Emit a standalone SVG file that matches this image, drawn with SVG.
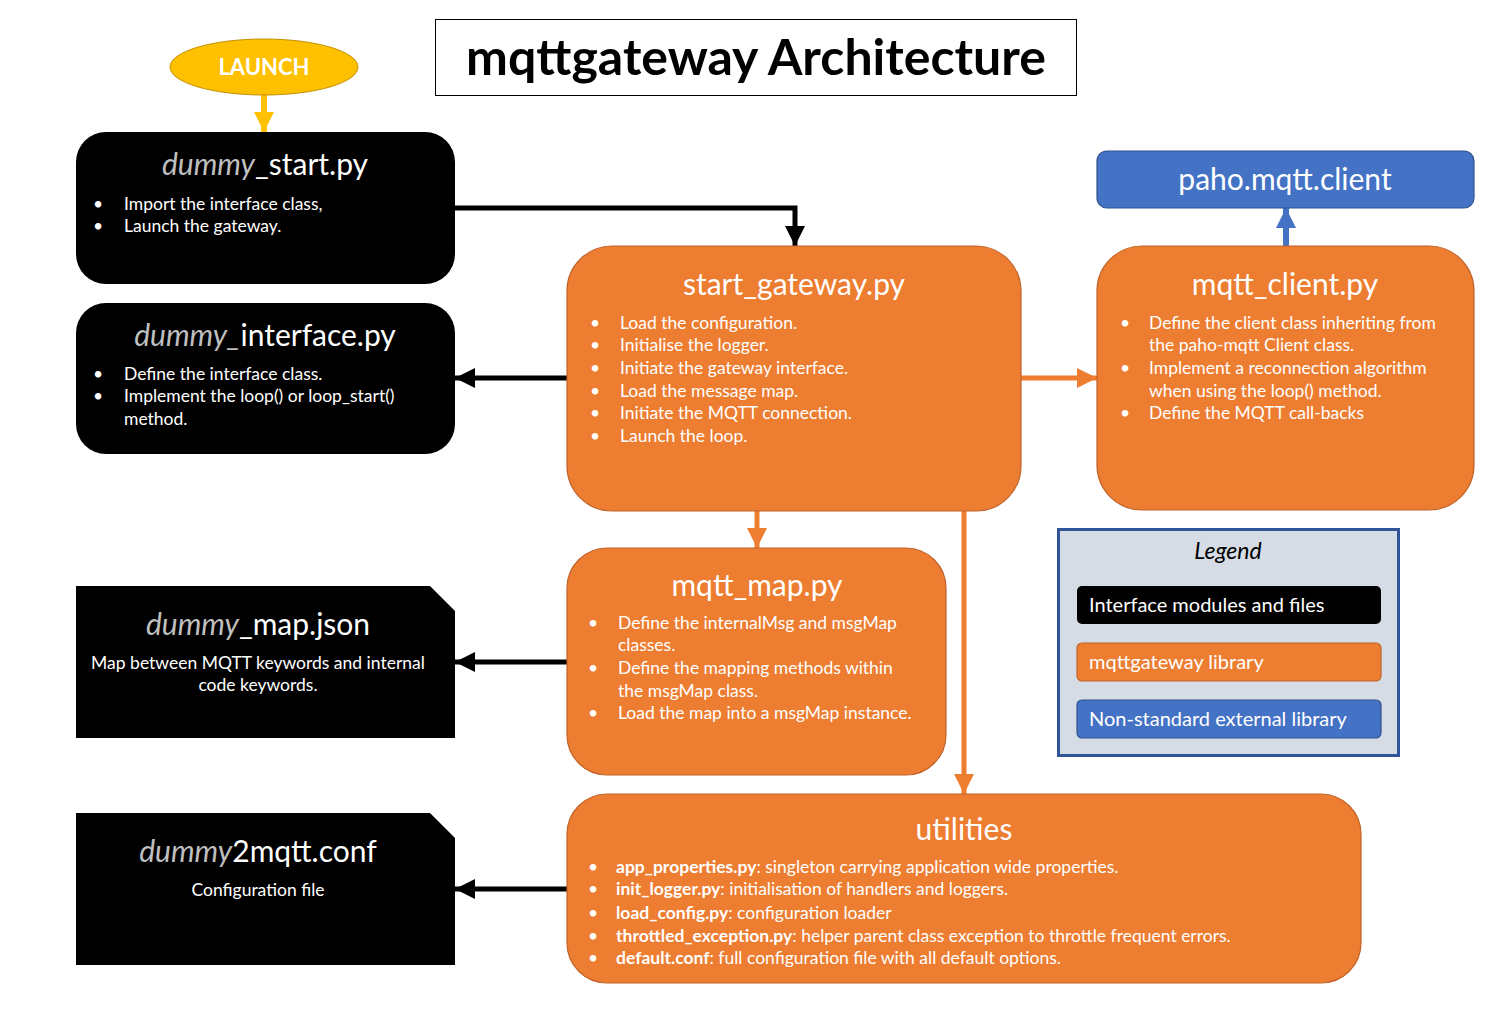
<svg xmlns="http://www.w3.org/2000/svg" width="1512" height="1021" viewBox="0 0 1512 1021">
<style>
text{font-family:Lato,"Open Sans","Liberation Sans",sans-serif;fill:#fff}
.ttl{font-size:30px;text-anchor:middle}
.it{font-style:italic;fill:#BFBFBF}
.b{font-size:17.5px}
.blk{fill:#000}
.org{fill:#ED7D31;stroke:#C0632A;stroke-width:1.2}
.blu{fill:#4472C4;stroke:#2F528F;stroke-width:1.2}
.ck{stroke:#000;stroke-width:5;fill:none}
.co{stroke:#ED7D31;stroke-width:5;fill:none}
.bd{font-weight:bold}
.lg{font-size:20px}
</style>
<defs>
<marker id="ak" markerUnits="userSpaceOnUse" markerWidth="22" markerHeight="22" refX="20" refY="11" orient="auto"><path d="M0,1 L20,11 L0,21 Z" fill="#000"/></marker>
<marker id="ao" markerUnits="userSpaceOnUse" markerWidth="22" markerHeight="22" refX="20" refY="11" orient="auto"><path d="M0,1 L20,11 L0,21 Z" fill="#ED7D31"/></marker>
<marker id="ay" markerUnits="userSpaceOnUse" markerWidth="22" markerHeight="22" refX="20" refY="11" orient="auto"><path d="M0,1 L20,11 L0,21 Z" fill="#FFC000"/></marker>
<marker id="ab" markerUnits="userSpaceOnUse" markerWidth="22" markerHeight="22" refX="20" refY="11" orient="auto"><path d="M0,1 L20,11 L0,21 Z" fill="#4472C4"/></marker>
</defs>

<g id="title">
<rect x="435.5" y="19.5" width="641" height="76" fill="#fff" stroke="#000" stroke-width="1"/>
<text x="756" y="75" style="font-size:50px;font-weight:bold;fill:#000;text-anchor:middle">mqttgateway Architecture</text>
</g>

<g id="connectors">
<line x1="264" y1="95" x2="264" y2="132" stroke="#FFC000" stroke-width="6" marker-end="url(#ay)"/>
<path d="M455,208 H795 V246" class="ck" marker-end="url(#ak)"/>
<line x1="567" y1="378" x2="455" y2="378" class="ck" marker-end="url(#ak)"/>
<line x1="567" y1="662" x2="455" y2="662" class="ck" marker-end="url(#ak)"/>
<line x1="567" y1="889" x2="455" y2="889" class="ck" marker-end="url(#ak)"/>
<line x1="1021" y1="378" x2="1097" y2="378" class="co" marker-end="url(#ao)"/>
<line x1="757" y1="511" x2="757" y2="548" class="co" marker-end="url(#ao)"/>
<line x1="964" y1="511" x2="964" y2="794" class="co" marker-end="url(#ao)"/>
<line x1="1286" y1="246" x2="1286" y2="208" stroke="#4472C4" stroke-width="6" marker-end="url(#ab)"/>
</g>

<g id="launch">
<ellipse cx="264" cy="67" rx="94" ry="28" fill="#FFC000" stroke="#BF9000" stroke-width="1"/>
<text x="264" y="75" class="bd" style="font-size:22px;text-anchor:middle">LAUNCH</text>
</g>

<g id="dummy_start">
<rect x="76" y="132" width="379" height="152" rx="30" class="blk"/>
<text x="265" y="175" class="ttl"><tspan class="it">dummy</tspan>_start.py</text>
<text class="b"><tspan x="93" y="210">•</tspan><tspan x="124" y="210">Import the interface class,</tspan><tspan x="93" y="232">•</tspan><tspan x="124" y="232">Launch the gateway.</tspan></text>
</g>

<g id="dummy_interface">
<rect x="76" y="303" width="379" height="151" rx="30" class="blk"/>
<text x="265" y="346" class="ttl"><tspan class="it">dummy_</tspan>interface.py</text>
<text class="b"><tspan x="93" y="380">•</tspan><tspan x="124" y="380">Define the interface class.</tspan><tspan x="93" y="402">•</tspan><tspan x="124" y="402">Implement the loop() or loop_start()</tspan><tspan x="124" y="425">method.</tspan></text>
</g>

<g id="start_gateway">
<rect x="567" y="246" width="454" height="265" rx="45" class="org"/>
<text x="794" y="295" class="ttl">start_gateway.py</text>
<text class="b"><tspan x="590" y="329">•</tspan><tspan x="620" y="329">Load the configuration.</tspan><tspan x="590" y="351">•</tspan><tspan x="620" y="351">Initialise the logger.</tspan><tspan x="590" y="374">•</tspan><tspan x="620" y="374">Initiate the gateway interface.</tspan><tspan x="590" y="397">•</tspan><tspan x="620" y="397">Load the message map.</tspan><tspan x="590" y="419">•</tspan><tspan x="620" y="419">Initiate the MQTT connection.</tspan><tspan x="590" y="442">•</tspan><tspan x="620" y="442">Launch the loop.</tspan></text>
</g>

<g id="paho">
<rect x="1097" y="151" width="377" height="57" rx="10" class="blu"/>
<text x="1285" y="190" class="ttl">paho.mqtt.client</text>
</g>

<g id="mqtt_client">
<rect x="1097" y="246" width="377" height="264" rx="45" class="org"/>
<text x="1285" y="295" class="ttl">mqtt_client.py</text>
<text class="b"><tspan x="1120" y="329">•</tspan><tspan x="1149" y="329">Define the client class inheriting from</tspan><tspan x="1149" y="351">the paho-mqtt Client class.</tspan><tspan x="1120" y="374">•</tspan><tspan x="1149" y="374">Implement a reconnection algorithm</tspan><tspan x="1149" y="397">when using the loop() method.</tspan><tspan x="1120" y="419">•</tspan><tspan x="1149" y="419">Define the MQTT call-backs</tspan></text>
</g>

<g id="mqtt_map">
<rect x="567" y="548" width="379" height="227" rx="40" class="org"/>
<text x="757" y="596" class="ttl">mqtt_map.py</text>
<text class="b"><tspan x="588" y="629">•</tspan><tspan x="618" y="629">Define the internalMsg and msgMap</tspan><tspan x="618" y="651">classes.</tspan><tspan x="588" y="674">•</tspan><tspan x="618" y="674">Define the mapping methods within</tspan><tspan x="618" y="697">the msgMap class.</tspan><tspan x="588" y="719">•</tspan><tspan x="618" y="719">Load the map into a msgMap instance.</tspan></text>
</g>

<g id="dummy_map">
<path d="M76,586 H430 L455,611 V738 H76 Z" class="blk"/>
<text x="258" y="635" class="ttl"><tspan class="it">dummy</tspan>_map.json</text>
<text class="b" text-anchor="middle"><tspan x="258" y="669">Map between MQTT keywords and internal</tspan><tspan x="258" y="691">code keywords.</tspan></text>
</g>

<g id="utilities">
<rect x="567" y="794" width="794" height="189" rx="40" class="org"/>
<text x="964" y="840" class="ttl">utilities</text>
<text class="b"><tspan x="588" y="873">•</tspan><tspan x="616" y="873" class="bd">app_properties.py</tspan><tspan>: singleton carrying application wide properties.</tspan><tspan x="588" y="895">•</tspan><tspan x="616" y="895" class="bd">init_logger.py</tspan><tspan>: initialisation of handlers and loggers.</tspan><tspan x="588" y="919">•</tspan><tspan x="616" y="919" class="bd">load_config.py</tspan><tspan>: configuration loader</tspan><tspan x="588" y="942">•</tspan><tspan x="616" y="942" class="bd">throttled_exception.py</tspan><tspan>: helper parent class exception to throttle frequent errors.</tspan><tspan x="588" y="964">•</tspan><tspan x="616" y="964" class="bd">default.conf</tspan><tspan>: full configuration file with all default options.</tspan></text>
</g>

<g id="dummy2mqtt">
<path d="M76,813 H430 L455,838 V965 H76 Z" class="blk"/>
<text x="258" y="862" class="ttl"><tspan class="it">dummy</tspan>2mqtt.conf</text>
<text x="258" y="896" class="b" text-anchor="middle">Configuration file</text>
</g>

<g id="legend">
<rect x="1058.5" y="529.5" width="340" height="226" fill="#D6DCE5" stroke="#2F5597" stroke-width="3"/>
<text x="1228" y="559" style="font-size:23px;font-style:italic;fill:#000;text-anchor:middle">Legend</text>
<rect x="1077" y="586" width="304" height="38" rx="5" class="blk"/>
<text x="1089" y="612" class="lg">Interface modules and files</text>
<rect x="1077" y="643" width="304" height="38" rx="5" class="org"/>
<text x="1089" y="669" class="lg">mqttgateway library</text>
<rect x="1077" y="700" width="304" height="38" rx="5" class="blu"/>
<text x="1089" y="726" class="lg">Non-standard external library</text>
</g>
</svg>
